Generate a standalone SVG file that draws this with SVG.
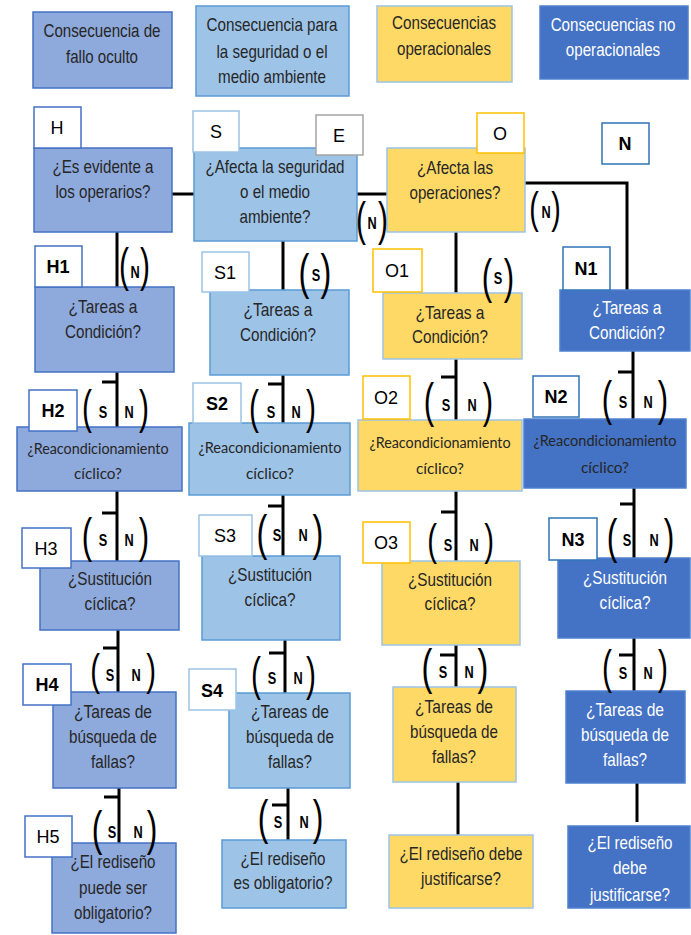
<svg xmlns="http://www.w3.org/2000/svg" width="691" height="935" viewBox="0 0 691 935">
<style>
  .t { font-family: "Liberation Sans", Arial, sans-serif; font-size: 18.5px; fill: #262626; text-anchor: middle; }
  .w { fill: #ffffff; }
  .rc { font-family: Lato, "Open Sans", sans-serif; font-size: 15.5px; fill: #262626; text-anchor: middle; }
  .lb { font-family: "Liberation Sans", Arial, sans-serif; font-size: 18px; fill: #000; text-anchor: middle; }
  .sn { font-family: "Liberation Sans", Arial, sans-serif; font-size: 17px; font-weight: bold; fill: #000; text-anchor: middle; }
  .pr { font-family: "Liberation Sans", Arial, sans-serif; fill: #000; text-anchor: middle; }
  .bh { fill: #8EA9DB; stroke: #4472C4; stroke-width: 1.5; }
  .bs { fill: #9DC3E6; stroke: #5B9BD5; stroke-width: 1.5; }
  .bo { fill: #FFD966; stroke: #9DC3E6; stroke-width: 1.5; }
  .bn { fill: #4472C4; stroke: #4F81D0; stroke-width: 1.5; }
  .lh { fill: #fff; stroke: #4472C4; stroke-width: 1.5; }
  .ls { fill: #fff; stroke: #9DC3E6; stroke-width: 1.5; }
  .le { fill: #fff; stroke: #A5A5A5; stroke-width: 1.5; }
  .lo { fill: #fff; stroke: #FFC000; stroke-width: 1.5; }
  .ln { fill: #fff; stroke: #2E75B6; stroke-width: 1.5; }
  .wire { stroke: #000; stroke-width: 3; fill: none; }
</style>

<!-- legend -->
<g id="legend-hidden">
  <rect class="bh" x="33" y="12" width="139" height="76"/>
  <text class="t" x="102" y="37" textLength="117" lengthAdjust="spacingAndGlyphs">Consecuencia de</text>
  <text class="t" x="102" y="63" textLength="72" lengthAdjust="spacingAndGlyphs">fallo oculto</text>
</g>
<g id="legend-safety">
  <rect class="bs" x="196" y="6" width="153" height="90"/>
  <text class="t" x="272" y="31" textLength="131" lengthAdjust="spacingAndGlyphs">Consecuencia para</text>
  <text class="t" x="272" y="58" textLength="111" lengthAdjust="spacingAndGlyphs">la seguridad o el</text>
  <text class="t" x="272" y="83" textLength="108" lengthAdjust="spacingAndGlyphs">medio ambiente</text>
</g>
<g id="legend-operational">
  <rect class="bo" x="377" y="6" width="135" height="76"/>
  <text class="t" x="444" y="29" textLength="104" lengthAdjust="spacingAndGlyphs">Consecuencias</text>
  <text class="t" x="444" y="55" textLength="94" lengthAdjust="spacingAndGlyphs">operacionales</text>
</g>
<g id="legend-nonoperational">
  <rect class="bn" x="540" y="6" width="148" height="73"/>
  <text class="t w" transform="translate(613 31) scale(0.82 1)">Consecuencias no</text>
  <text class="t w" transform="translate(613 56) scale(0.82 1)">operacionales</text>
</g>

<!-- connectors -->
<g id="connectors">
  <path class="wire" d="M172 194 H194"/>
  <path class="wire" d="M357 194 H387"/>
  <path class="wire" d="M525 183 H627 V290"/>
  <!-- hidden column -->
  <path class="wire" d="M117 232 V287"/>
  <path class="wire" d="M117 372 V427 M102 382 H117"/>
  <path class="wire" d="M117 491 V561 M102 513 H117"/>
  <path class="wire" d="M118 630 V692 M103 648 H118"/>
  <path class="wire" d="M119 788 V843 M104 797 H119"/>
  <!-- safety column -->
  <path class="wire" d="M283 241 V290"/>
  <path class="wire" d="M283 375 V423 M268 384 H283"/>
  <path class="wire" d="M283 495 V556 M268 506 H283"/>
  <path class="wire" d="M285 640 V693 M269 653 H285"/>
  <path class="wire" d="M288 788 V840 M272 805 H288"/>
  <!-- operational column -->
  <path class="wire" d="M456 232 V293"/>
  <path class="wire" d="M456 359 V420 M441 377 H456"/>
  <path class="wire" d="M456 491 V561 M441 512 H456"/>
  <path class="wire" d="M456 645 V687 M440 655 H456"/>
  <path class="wire" d="M458 782 V835"/>
  <!-- non-operational column -->
  <path class="wire" d="M633 351 V419 M618 372 H633"/>
  <path class="wire" d="M634 488 V558 M620 504 H634"/>
  <path class="wire" d="M634 638 V691 M619 655 H634"/>
  <path class="wire" d="M637 783 V822"/>
</g>

<!-- top row -->
<g id="node-H">
  <rect class="bh" x="34" y="148" width="138" height="84"/>
  <text class="t" x="103" y="173" textLength="101" lengthAdjust="spacingAndGlyphs">¿Es evidente a</text>
  <text class="t" x="103" y="198" textLength="95" lengthAdjust="spacingAndGlyphs">los operarios?</text>
  <rect class="lh" x="34" y="107" width="47" height="41"/>
  <text class="lb" x="57" y="134">H</text>
</g>
<g id="node-S">
  <rect class="bs" x="194" y="148" width="163" height="93"/>
  <text class="t" x="275" y="173" textLength="139" lengthAdjust="spacingAndGlyphs">¿Afecta la seguridad</text>
  <text class="t" x="275" y="198" textLength="70" lengthAdjust="spacingAndGlyphs">o el medio</text>
  <text class="t" x="275" y="223" textLength="71" lengthAdjust="spacingAndGlyphs">ambiente?</text>
  <rect class="ls" x="193" y="111" width="46" height="41"/>
  <text class="lb" x="216" y="138">S</text>
  <rect class="le" x="316" y="115" width="47" height="40"/>
  <text class="lb" x="339" y="142">E</text>
</g>
<g id="node-O">
  <rect class="bo" x="387" y="148" width="138" height="84"/>
  <text class="t" x="455" y="174" textLength="76" lengthAdjust="spacingAndGlyphs">¿Afecta las</text>
  <text class="t" x="455" y="199" textLength="91" lengthAdjust="spacingAndGlyphs">operaciones?</text>
  <rect class="lo" x="477" y="113" width="47" height="40"/>
  <text class="lb" x="500" y="140">O</text>
</g>
<g id="node-N">
  <rect class="ln" x="602" y="123" width="47" height="41"/>
  <text class="lb" x="625" y="150" font-weight="bold">N</text>
</g>

<!-- row 1 -->
<g id="node-H1">
  <rect class="bh" x="35" y="287" width="139" height="85"/>
  <text class="t" x="103" y="313" textLength="69" lengthAdjust="spacingAndGlyphs">¿Tareas a</text>
  <text class="t" x="103" y="338" textLength="76" lengthAdjust="spacingAndGlyphs">Condición?</text>
  <rect class="lh" x="35" y="246" width="47" height="41"/>
  <text class="lb" x="58" y="273" font-weight="bold">H1</text>
</g>
<g id="node-S1">
  <rect class="bs" x="210" y="290" width="139" height="85"/>
  <text class="t" x="278" y="316" textLength="69" lengthAdjust="spacingAndGlyphs">¿Tareas a</text>
  <text class="t" x="278" y="341" textLength="76" lengthAdjust="spacingAndGlyphs">Condición?</text>
  <rect class="ls" x="202" y="252" width="47" height="40"/>
  <text class="lb" x="225" y="279">S1</text>
</g>
<g id="node-O1">
  <rect class="bo" x="383" y="293" width="139" height="66"/>
  <text class="t" x="450" y="319" textLength="69" lengthAdjust="spacingAndGlyphs">¿Tareas a</text>
  <text class="t" x="450" y="343" textLength="76" lengthAdjust="spacingAndGlyphs">Condición?</text>
  <rect class="lo" x="373" y="249" width="49" height="43"/>
  <text class="lb" x="397" y="277">O1</text>
</g>
<g id="node-N1">
  <rect class="bn" x="560" y="290" width="130" height="61"/>
  <text class="t w" x="627" y="314" textLength="69" lengthAdjust="spacingAndGlyphs">¿Tareas a</text>
  <text class="t w" x="627" y="339" textLength="76" lengthAdjust="spacingAndGlyphs">Condición?</text>
  <rect class="ln" x="563" y="247" width="47" height="43"/>
  <text class="lb" x="586" y="275" font-weight="bold">N1</text>
</g>

<!-- row 2 -->
<g id="node-H2">
  <rect class="bh" x="17" y="427" width="165" height="64"/>
  <text class="rc" x="98" y="454" textLength="141" lengthAdjust="spacingAndGlyphs">¿Reacondicionamiento</text>
  <text class="rc" x="98" y="479" textLength="48" lengthAdjust="spacingAndGlyphs">cíclico?</text>
  <rect class="lh" x="29" y="390" width="48" height="41"/>
  <text class="lb" x="53" y="417" font-weight="bold">H2</text>
</g>
<g id="node-S2">
  <rect class="bs" x="189" y="423" width="161" height="72"/>
  <text class="rc" x="270" y="453" textLength="143" lengthAdjust="spacingAndGlyphs">¿Reacondicionamiento</text>
  <text class="rc" x="270" y="479" textLength="48" lengthAdjust="spacingAndGlyphs">cíclico?</text>
  <rect class="ls" x="193" y="383" width="48" height="40"/>
  <text class="lb" x="217" y="410" font-weight="bold">S2</text>
</g>
<g id="node-O2">
  <rect class="bo" x="358" y="420" width="164" height="71"/>
  <text class="rc" x="440" y="448" textLength="141" lengthAdjust="spacingAndGlyphs">¿Reacondicionamiento</text>
  <text class="rc" x="440" y="474" textLength="48" lengthAdjust="spacingAndGlyphs">cíclico?</text>
  <rect class="lo" x="363" y="376" width="47" height="43"/>
  <text class="lb" x="386" y="404">O2</text>
</g>
<g id="node-N2">
  <rect class="bn" x="524" y="419" width="162" height="69"/>
  <text class="rc w" x="605" y="446" textLength="143" lengthAdjust="spacingAndGlyphs">¿Reacondicionamiento</text>
  <text class="rc w" x="605" y="473" textLength="48" lengthAdjust="spacingAndGlyphs">cíclico?</text>
  <rect class="ln" x="533" y="376" width="46" height="41"/>
  <text class="lb" x="556" y="403" font-weight="bold">N2</text>
</g>

<!-- row 3 -->
<g id="node-H3">
  <rect class="bh" x="40" y="561" width="139" height="69"/>
  <text class="t" x="110" y="585" textLength="84" lengthAdjust="spacingAndGlyphs">¿Sustitución</text>
  <text class="t" x="110" y="610" textLength="51" lengthAdjust="spacingAndGlyphs">cíclica?</text>
  <rect class="lh" x="22" y="528" width="49" height="40"/>
  <text class="lb" x="46" y="555">H3</text>
</g>
<g id="node-S3">
  <rect class="bs" x="202" y="556" width="138" height="84"/>
  <text class="t" x="270" y="581" textLength="84" lengthAdjust="spacingAndGlyphs">¿Sustitución</text>
  <text class="t" x="270" y="606" textLength="51" lengthAdjust="spacingAndGlyphs">cíclica?</text>
  <rect class="ls" x="199" y="515" width="53" height="41"/>
  <text class="lb" x="225" y="542">S3</text>
</g>
<g id="node-O3">
  <rect class="bo" x="382" y="561" width="138" height="84"/>
  <text class="t" x="450" y="586" textLength="84" lengthAdjust="spacingAndGlyphs">¿Sustitución</text>
  <text class="t" x="450" y="610" textLength="51" lengthAdjust="spacingAndGlyphs">cíclica?</text>
  <rect class="lo" x="363" y="522" width="47" height="41"/>
  <text class="lb" x="386" y="549">O3</text>
</g>
<g id="node-N3">
  <rect class="bn" x="558" y="558" width="132" height="80"/>
  <text class="t w" x="625" y="584" textLength="84" lengthAdjust="spacingAndGlyphs">¿Sustitución</text>
  <text class="t w" x="625" y="609" textLength="51" lengthAdjust="spacingAndGlyphs">cíclica?</text>
  <rect class="ln" x="549" y="518" width="48" height="42"/>
  <text class="lb" x="573" y="546" font-weight="bold">N3</text>
</g>

<!-- row 4 -->
<g id="node-H4">
  <rect class="bh" x="53" y="692" width="123" height="96"/>
  <text class="t" x="113" y="718" textLength="78" lengthAdjust="spacingAndGlyphs">¿Tareas de</text>
  <text class="t" x="113" y="743" textLength="88" lengthAdjust="spacingAndGlyphs">búsqueda de</text>
  <text class="t" x="113" y="768" textLength="44" lengthAdjust="spacingAndGlyphs">fallas?</text>
  <rect class="lh" x="23" y="664" width="48" height="41"/>
  <text class="lb" x="47" y="691" font-weight="bold">H4</text>
</g>
<g id="node-S4">
  <rect class="bs" x="229" y="693" width="121" height="95"/>
  <text class="t" x="290" y="718" textLength="78" lengthAdjust="spacingAndGlyphs">¿Tareas de</text>
  <text class="t" x="290" y="743" textLength="88" lengthAdjust="spacingAndGlyphs">búsqueda de</text>
  <text class="t" x="290" y="768" textLength="44" lengthAdjust="spacingAndGlyphs">fallas?</text>
  <rect class="ls" x="189" y="669" width="47" height="41"/>
  <text class="lb" x="212" y="697" font-weight="bold">S4</text>
</g>
<g id="node-O4">
  <rect class="bo" x="393" y="687" width="123" height="95"/>
  <text class="t" x="454" y="713" textLength="78" lengthAdjust="spacingAndGlyphs">¿Tareas de</text>
  <text class="t" x="454" y="738" textLength="88" lengthAdjust="spacingAndGlyphs">búsqueda de</text>
  <text class="t" x="454" y="763" textLength="44" lengthAdjust="spacingAndGlyphs">fallas?</text>
</g>
<g id="node-N4">
  <rect class="bn" x="566" y="691" width="119" height="92"/>
  <text class="t w" x="625" y="716" textLength="78" lengthAdjust="spacingAndGlyphs">¿Tareas de</text>
  <text class="t w" x="625" y="741" textLength="88" lengthAdjust="spacingAndGlyphs">búsqueda de</text>
  <text class="t w" x="625" y="766" textLength="44" lengthAdjust="spacingAndGlyphs">fallas?</text>
</g>

<!-- row 5 -->
<g id="node-H5">
  <rect class="bh" x="52" y="843" width="124" height="90"/>
  <text class="t" x="113" y="868" textLength="85" lengthAdjust="spacingAndGlyphs">¿El rediseño</text>
  <text class="t" x="113" y="894" textLength="68" lengthAdjust="spacingAndGlyphs">puede ser</text>
  <text class="t" x="113" y="919" textLength="78" lengthAdjust="spacingAndGlyphs">obligatorio?</text>
  <rect class="lh" x="25" y="816" width="47" height="41"/>
  <text class="lb" x="48" y="843">H5</text>
</g>
<g id="node-S5">
  <rect class="bs" x="222" y="840" width="124" height="68"/>
  <text class="t" x="283" y="865" textLength="85" lengthAdjust="spacingAndGlyphs">¿El rediseño</text>
  <text class="t" x="283" y="889" textLength="99" lengthAdjust="spacingAndGlyphs">es obligatorio?</text>
</g>
<g id="node-O5">
  <rect class="bo" x="389" y="835" width="144" height="73"/>
  <text class="t" x="461" y="860" textLength="123" lengthAdjust="spacingAndGlyphs">¿El rediseño debe</text>
  <text class="t" x="461" y="885" textLength="80" lengthAdjust="spacingAndGlyphs">justificarse?</text>
</g>
<g id="node-N5">
  <rect class="bn" x="568" y="826" width="122" height="82"/>
  <text class="t w" x="630" y="849" textLength="85" lengthAdjust="spacingAndGlyphs">¿El rediseño</text>
  <text class="t w" x="630" y="874" textLength="34" lengthAdjust="spacingAndGlyphs">debe</text>
  <text class="t w" x="630" y="901" textLength="80" lengthAdjust="spacingAndGlyphs">justificarse?</text>
</g>

<!-- answer labels on the connectors: narrow brackets round S / N -->
<g id="answers">
  <!-- single answers -->
  <text class="pr" font-size="46" transform="translate(124 281) scale(0.65 1)">(</text><text class="pr" font-size="46" transform="translate(145 281) scale(0.65 1)">)</text><text class="sn" transform="translate(135 278) scale(0.75 1)">N</text>
  <text class="pr" font-size="50" transform="translate(304 289) scale(0.65 1)">(</text><text class="pr" font-size="50" transform="translate(326 289) scale(0.65 1)">)</text><text class="sn" transform="translate(316 281) scale(0.75 1)">S</text>
  <text class="pr" font-size="48" transform="translate(487 293) scale(0.65 1)">(</text><text class="pr" font-size="48" transform="translate(509 293) scale(0.65 1)">)</text><text class="sn" transform="translate(498 284) scale(0.75 1)">S</text>
  <text class="pr" font-size="46" transform="translate(361 235) scale(0.65 1)">(</text><text class="pr" font-size="46" transform="translate(383 235) scale(0.65 1)">)</text><text class="sn" transform="translate(372 229) scale(0.75 1)">N</text>
  <text class="pr" font-size="44" transform="translate(534 223) scale(0.65 1)">(</text><text class="pr" font-size="44" transform="translate(556 223) scale(0.65 1)">)</text><text class="sn" transform="translate(546 218) scale(0.75 1)">N</text>
  <!-- S | N pairs -->
  <text class="pr" font-size="46" transform="translate(87 423) scale(0.65 1)">(</text><text class="pr" font-size="46" transform="translate(144 423) scale(0.65 1)">)</text><text class="sn" transform="translate(103 418) scale(0.75 1)">S</text><text class="sn" transform="translate(129 418) scale(0.75 1)">N</text>
  <text class="pr" font-size="46" transform="translate(254 423) scale(0.65 1)">(</text><text class="pr" font-size="46" transform="translate(311 423) scale(0.65 1)">)</text><text class="sn" transform="translate(271 418) scale(0.75 1)">S</text><text class="sn" transform="translate(296 418) scale(0.75 1)">N</text>
  <text class="pr" font-size="48" transform="translate(429 417) scale(0.65 1)">(</text><text class="pr" font-size="48" transform="translate(488 417) scale(0.65 1)">)</text><text class="sn" transform="translate(446 411) scale(0.75 1)">S</text><text class="sn" transform="translate(472 411) scale(0.75 1)">N</text>
  <text class="pr" font-size="48" transform="translate(607 415) scale(0.65 1)">(</text><text class="pr" font-size="48" transform="translate(663 415) scale(0.65 1)">)</text><text class="sn" transform="translate(623 408) scale(0.75 1)">S</text><text class="sn" transform="translate(648 408) scale(0.75 1)">N</text>
  <text class="pr" font-size="48" transform="translate(87 552) scale(0.65 1)">(</text><text class="pr" font-size="48" transform="translate(144 552) scale(0.65 1)">)</text><text class="sn" transform="translate(103 546) scale(0.75 1)">S</text><text class="sn" transform="translate(129 546) scale(0.75 1)">N</text>
  <text class="pr" font-size="50" transform="translate(262 550) scale(0.65 1)">(</text><text class="pr" font-size="50" transform="translate(318 550) scale(0.65 1)">)</text><text class="sn" transform="translate(277 541) scale(0.75 1)">S</text><text class="sn" transform="translate(303 541) scale(0.75 1)">N</text>
  <text class="pr" font-size="45" transform="translate(432 555) scale(0.65 1)">(</text><text class="pr" font-size="45" transform="translate(489 555) scale(0.65 1)">)</text><text class="sn" transform="translate(448 551) scale(0.75 1)">S</text><text class="sn" transform="translate(474 551) scale(0.75 1)">N</text>
  <text class="pr" font-size="49" transform="translate(612 553) scale(0.65 1)">(</text><text class="pr" font-size="49" transform="translate(669 553) scale(0.65 1)">)</text><text class="sn" transform="translate(627 546) scale(0.75 1)">S</text><text class="sn" transform="translate(654 546) scale(0.75 1)">N</text>
  <text class="pr" font-size="45" transform="translate(95 685) scale(0.65 1)">(</text><text class="pr" font-size="45" transform="translate(151 685) scale(0.65 1)">)</text><text class="sn" transform="translate(110 681) scale(0.75 1)">S</text><text class="sn" transform="translate(136 681) scale(0.75 1)">N</text>
  <text class="pr" font-size="46" transform="translate(256 690) scale(0.65 1)">(</text><text class="pr" font-size="46" transform="translate(311 690) scale(0.65 1)">)</text><text class="sn" transform="translate(272 684) scale(0.75 1)">S</text><text class="sn" transform="translate(298 684) scale(0.75 1)">N</text>
  <text class="pr" font-size="50" transform="translate(427 684) scale(0.65 1)">(</text><text class="pr" font-size="50" transform="translate(483 684) scale(0.65 1)">)</text><text class="sn" transform="translate(443 678) scale(0.75 1)">S</text><text class="sn" transform="translate(469 678) scale(0.75 1)">N</text>
  <text class="pr" font-size="46" transform="translate(607 683) scale(0.65 1)">(</text><text class="pr" font-size="46" transform="translate(663 683) scale(0.65 1)">)</text><text class="sn" transform="translate(623 679) scale(0.75 1)">S</text><text class="sn" transform="translate(648 679) scale(0.75 1)">N</text>
  <text class="pr" font-size="49" transform="translate(97 845) scale(0.65 1)">(</text><text class="pr" font-size="49" transform="translate(152 845) scale(0.65 1)">)</text><text class="sn" transform="translate(112 838) scale(0.75 1)">S</text><text class="sn" transform="translate(138 838) scale(0.75 1)">N</text>
  <text class="pr" font-size="49" transform="translate(263 834) scale(0.65 1)">(</text><text class="pr" font-size="49" transform="translate(318 834) scale(0.65 1)">)</text><text class="sn" transform="translate(278 828) scale(0.75 1)">S</text><text class="sn" transform="translate(304 828) scale(0.75 1)">N</text>
</g>
</svg>
